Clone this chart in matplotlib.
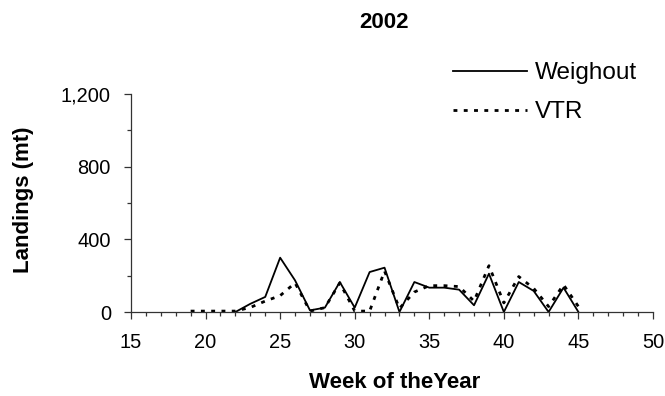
import numpy as np
import matplotlib.pyplot as plt
from matplotlib.ticker import MultipleLocator, FuncFormatter

weeks_w = [22, 23, 24, 25, 26, 27, 28, 29, 30, 31, 32, 33, 34, 35, 36, 37, 38, 39, 40, 41, 42, 43, 44, 45]
weighout = [0, 45, 83, 299, 174, 9, 24, 165, 24, 220, 244, 0, 165, 134, 134, 123, 37, 211, 0, 165, 116, 0, 134, 0]

weeks_v = [19, 20, 21, 22, 23, 24, 25, 26, 27, 28, 29, 30, 31, 32, 33, 34, 35, 36, 37, 38, 39, 40, 41, 42, 43, 44, 45]
vtr = [5, 5, 5, 5, 25, 60, 90, 160, 5, 24, 160, 5, 5, 225, 20, 110, 145, 145, 140, 60, 255, 50, 195, 130, 30, 150, 30]

plt.rcParams['font.family'] = ['Liberation Sans', 'DejaVu Sans']

fig = plt.figure(figsize=(6.65, 3.96), dpi=100)
ax = fig.add_axes([131 / 665, 1 - 312 / 396, 522 / 665, 218 / 396])

ax.plot(weeks_w, weighout, color="black", lw=1.3, label="Weighout")
ax.plot(weeks_v, vtr, color="black", lw=2.0, linestyle=(0, (1.4, 2.3)), label="VTR")

ax.set_xlim(15, 50)
ax.set_ylim(0, 1200)
ax.xaxis.set_major_locator(MultipleLocator(5))
ax.xaxis.set_minor_locator(MultipleLocator(1))
ax.yaxis.set_major_locator(MultipleLocator(400))
ax.yaxis.set_minor_locator(MultipleLocator(200))
ax.yaxis.set_major_formatter(FuncFormatter(lambda v, p: f"{int(v):,}"))
ax.tick_params(axis="both", which="major", length=5, width=0.9, color="#333333", labelsize=14.4)
ax.tick_params(axis="both", which="minor", length=3, width=0.9, color="#333333")
ax.tick_params(axis="x", which="both", direction="out", pad=10)
ax.tick_params(axis="y", which="both", direction="out", pad=9.4)

for s in ["top", "right"]:
    ax.spines[s].set_visible(False)
for s in ["left", "bottom"]:
    ax.spines[s].set_color("#333333")
    ax.spines[s].set_linewidth(0.9)

fig.text(384 / 665, 1 - 22 / 396, "2002", fontweight="bold", fontsize=16, ha="center", va="center")
ax.set_xlabel("Week of theYear", fontweight="bold", fontsize=16)
ax.xaxis.set_label_coords(0.505, -0.275)
ax.set_ylabel("Landings (mt)", fontweight="bold", fontsize=16)
ax.yaxis.set_label_coords(-0.186, 0.514)

ax.legend(loc="upper left", bbox_to_anchor=(453 / 665, 1 - 62 / 396), bbox_transform=fig.transFigure,
          frameon=False, handlelength=3.05, handletextpad=0.33, labelspacing=0.7, fontsize=17.5,
          borderaxespad=0, borderpad=0)

fig.savefig("out.png", dpi=100)
